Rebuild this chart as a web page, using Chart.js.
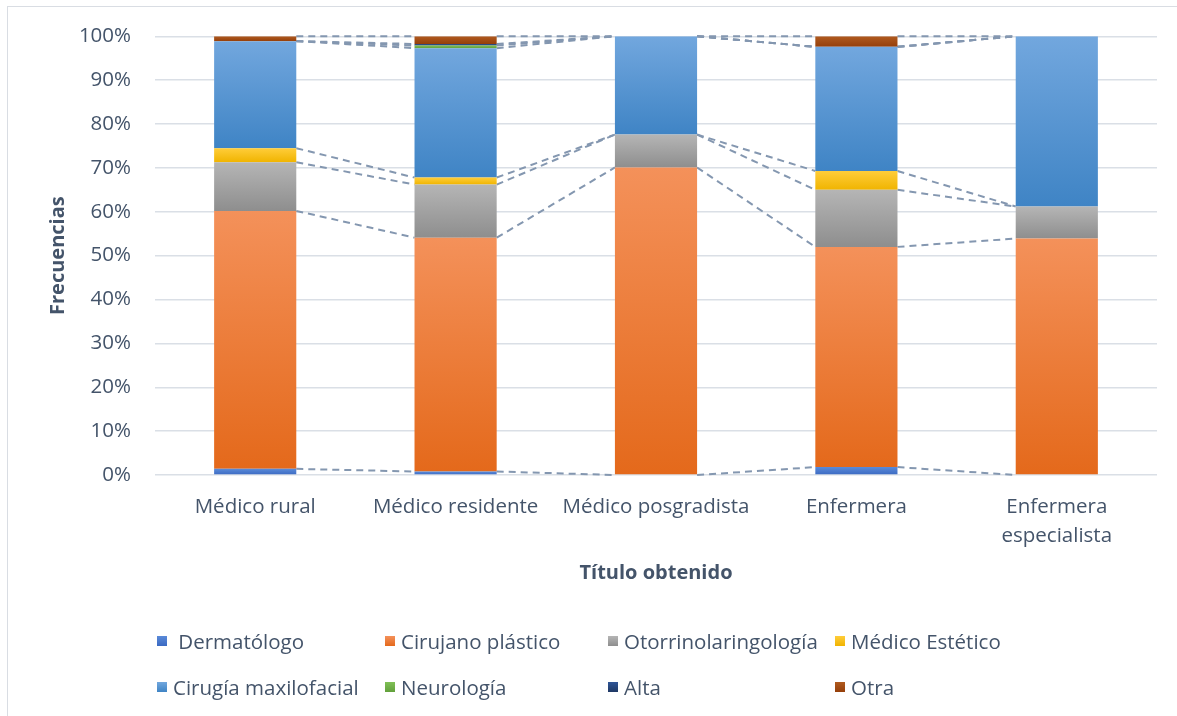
<!DOCTYPE html>
<html>
<head>
<meta charset="utf-8">
<script src="https://cdn.jsdelivr.net/npm/chart.js@4"></script>
<style>
  html, body { margin: 0; padding: 0; background: #fff; overflow: hidden; }
  #wrap { position: relative; width: 1177px; height: 716px; }
  #marco { position: absolute; left: 7px; top: 6px; width: 1250px; height: 800px; border: 1.5px solid #d9dde3; box-sizing: border-box; }
  #grafico { position: absolute; left: 0; top: 0; }
  #leyenda {
    position: absolute; left: 157px; top: 618px;
    display: grid; grid-template-columns: 228px 223px 227px 220px; grid-auto-rows: 46px;
    font-family: 'Open Sans', sans-serif; font-size: 20.5px; color: #44546a;
  }
  .item { display: flex; align-items: center; white-space: pre; }
  .caja { width: 10px; height: 10px; margin-right: 6px; flex: none; }
</style>
</head>
<body>
<div id="wrap">
  <div id="marco"></div>
  <canvas id="grafico" width="1177" height="716"></canvas>
  <div id="leyenda"></div>
</div>
<script>
const categorias = ['Médico rural', 'Médico residente', 'Médico posgradista', 'Enfermera', ['Enfermera', 'especialista']];
const nombres = [' Dermatólogo', 'Cirujano plástico', 'Otorrinolaringología', 'Médico Estético', 'Cirugía maxilofacial', 'Neurología', 'Alta', 'Otra'];

const dermatologo = [1.4, 0.8, 0, 1.8, 0];
const cirujano = [58.8, 53.3, 70.1, 50.2, 53.9];
const otorrino = [11.1, 12.1, 7.5, 13.0, 7.3];
const estetico = [3.2, 1.6, 0, 4.3, 0];
const maxilofacial = [24.4, 29.5, 22.4, 28.3, 38.8];
const neurologia = [0, 0.6, 0, 0, 0];
const alta = [0, 0.35, 0, 0, 0];
const otra = [1.1, 1.75, 0, 2.4, 0];

const ticksY = [0, 10, 20, 30, 40, 50, 60, 70, 80, 90, 100];

const series = [dermatologo, cirujano, otorrino, estetico, maxilofacial, neurologia, alta, otra];
// color claro arriba, oscuro abajo (degradado tipo Excel)
const colores = [
  ['#5a8ad8', '#3a69c2'],
  ['#f4915a', '#e4691b'],
  ['#b5b5b5', '#8e8e8e'],
  ['#ffcd3a', '#f0b400'],
  ['#72a7de', '#3f84c5'],
  ['#80c056', '#62a03c'],
  ['#2f5597', '#1f3864'],
  ['#b05a1f', '#953f0a']
];

const texto = '#44546a';
const fuente = "'Open Sans', sans-serif";

function degradado(c) {
  const par = colores[c.datasetIndex];
  const yS = c.chart.scales && c.chart.scales.y;
  if (c.type !== 'data' || !yS || !c.chart.chartArea) return par[0];
  const k = c.dataIndex;
  let base = 0;
  for (let j = 0; j < c.datasetIndex; j++) base += series[j][k];
  const tope = base + series[c.datasetIndex][k];
  const y0 = yS.getPixelForValue(tope), y1 = yS.getPixelForValue(base);
  if (Math.abs(y1 - y0) < 0.5) return par[0];
  const g = c.chart.ctx.createLinearGradient(0, y0, 0, y1);
  g.addColorStop(0, par[0]);
  g.addColorStop(1, par[1]);
  return g;
}

// lineas de serie punteadas entre columnas
const lineasSerie = {
  id: 'lineasSerie',
  beforeDatasetsDraw(chart) {
    const ctx = chart.ctx;
    ctx.save();
    ctx.strokeStyle = '#8497b0';
    ctx.lineWidth = 2;
    ctx.setLineDash([7, 5]);
    chart.data.datasets.forEach((ds, i) => {
      const barras = chart.getDatasetMeta(i).data;
      for (let k = 0; k < barras.length - 1; k++) {
        const a = barras[k], b = barras[k + 1];
        ctx.beginPath();
        ctx.moveTo(a.x + a.width / 2, a.y);
        ctx.lineTo(b.x - b.width / 2, b.y);
        ctx.stroke();
      }
    });
    ctx.restore();
  }
};

const chart = new Chart(document.getElementById('grafico').getContext('2d'), {
  type: 'bar',
  data: {
    labels: categorias,
    datasets: series.map((s, i) => ({
      label: nombres[i],
      data: s,
      backgroundColor: degradado,
      borderWidth: 0,
      barPercentage: 1,
      categoryPercentage: 0.41
    }))
  },
  options: {
    responsive: false,
    animation: false,
    layout: { padding: { top: 35, left: 0, right: 20, bottom: 116 } },
    plugins: {
      legend: { display: false },
      tooltip: { enabled: false }
    },
    scales: {
      x: {
        stacked: true,
        grid: { display: false },
        border: { display: false },
        ticks: {
          color: texto,
          padding: 9,
          maxRotation: 0,
          autoSkip: false,
          font: { family: fuente, size: 20.5, lineHeight: 1.45 }
        },
        title: {
          display: true,
          text: 'Título obtenido',
          color: texto,
          padding: { top: 15, bottom: 15 },
          font: { family: fuente, size: 20, weight: 'bold' }
        },
        afterFit(scale) { scale.height = 125; }
      },
      y: {
        stacked: true,
        min: 0,
        max: 100,
        afterBuildTicks(scale) { scale.ticks = ticksY.map(v => ({ value: v })); },
        grid: { color: '#dadfe6', lineWidth: 1.5, drawTicks: false },
        border: { display: false },
        ticks: {
          color: texto,
          padding: 24,
          font: { family: fuente, size: 20.5 },
          callback: v => v + '%'
        },
        title: {
          display: true,
          text: 'Frecuencias',
          color: texto,
          padding: { top: 46, bottom: 46 },
          font: { family: fuente, size: 20, weight: 'bold' }
        },
        afterFit(scale) { scale.width = 155; }
      }
    }
  },
  plugins: [lineasSerie]
});

// leyenda en HTML, dos filas de cuatro
const leyenda = document.getElementById('leyenda');
chart.data.datasets.forEach((ds, i) => {
  const item = document.createElement('div');
  item.className = 'item';
  const caja = document.createElement('span');
  caja.className = 'caja';
  caja.style.background = 'linear-gradient(' + colores[i][0] + ',' + colores[i][1] + ')';
  item.appendChild(caja);
  item.appendChild(document.createTextNode(ds.label));
  leyenda.appendChild(item);
});
</script>
</body>
</html>
